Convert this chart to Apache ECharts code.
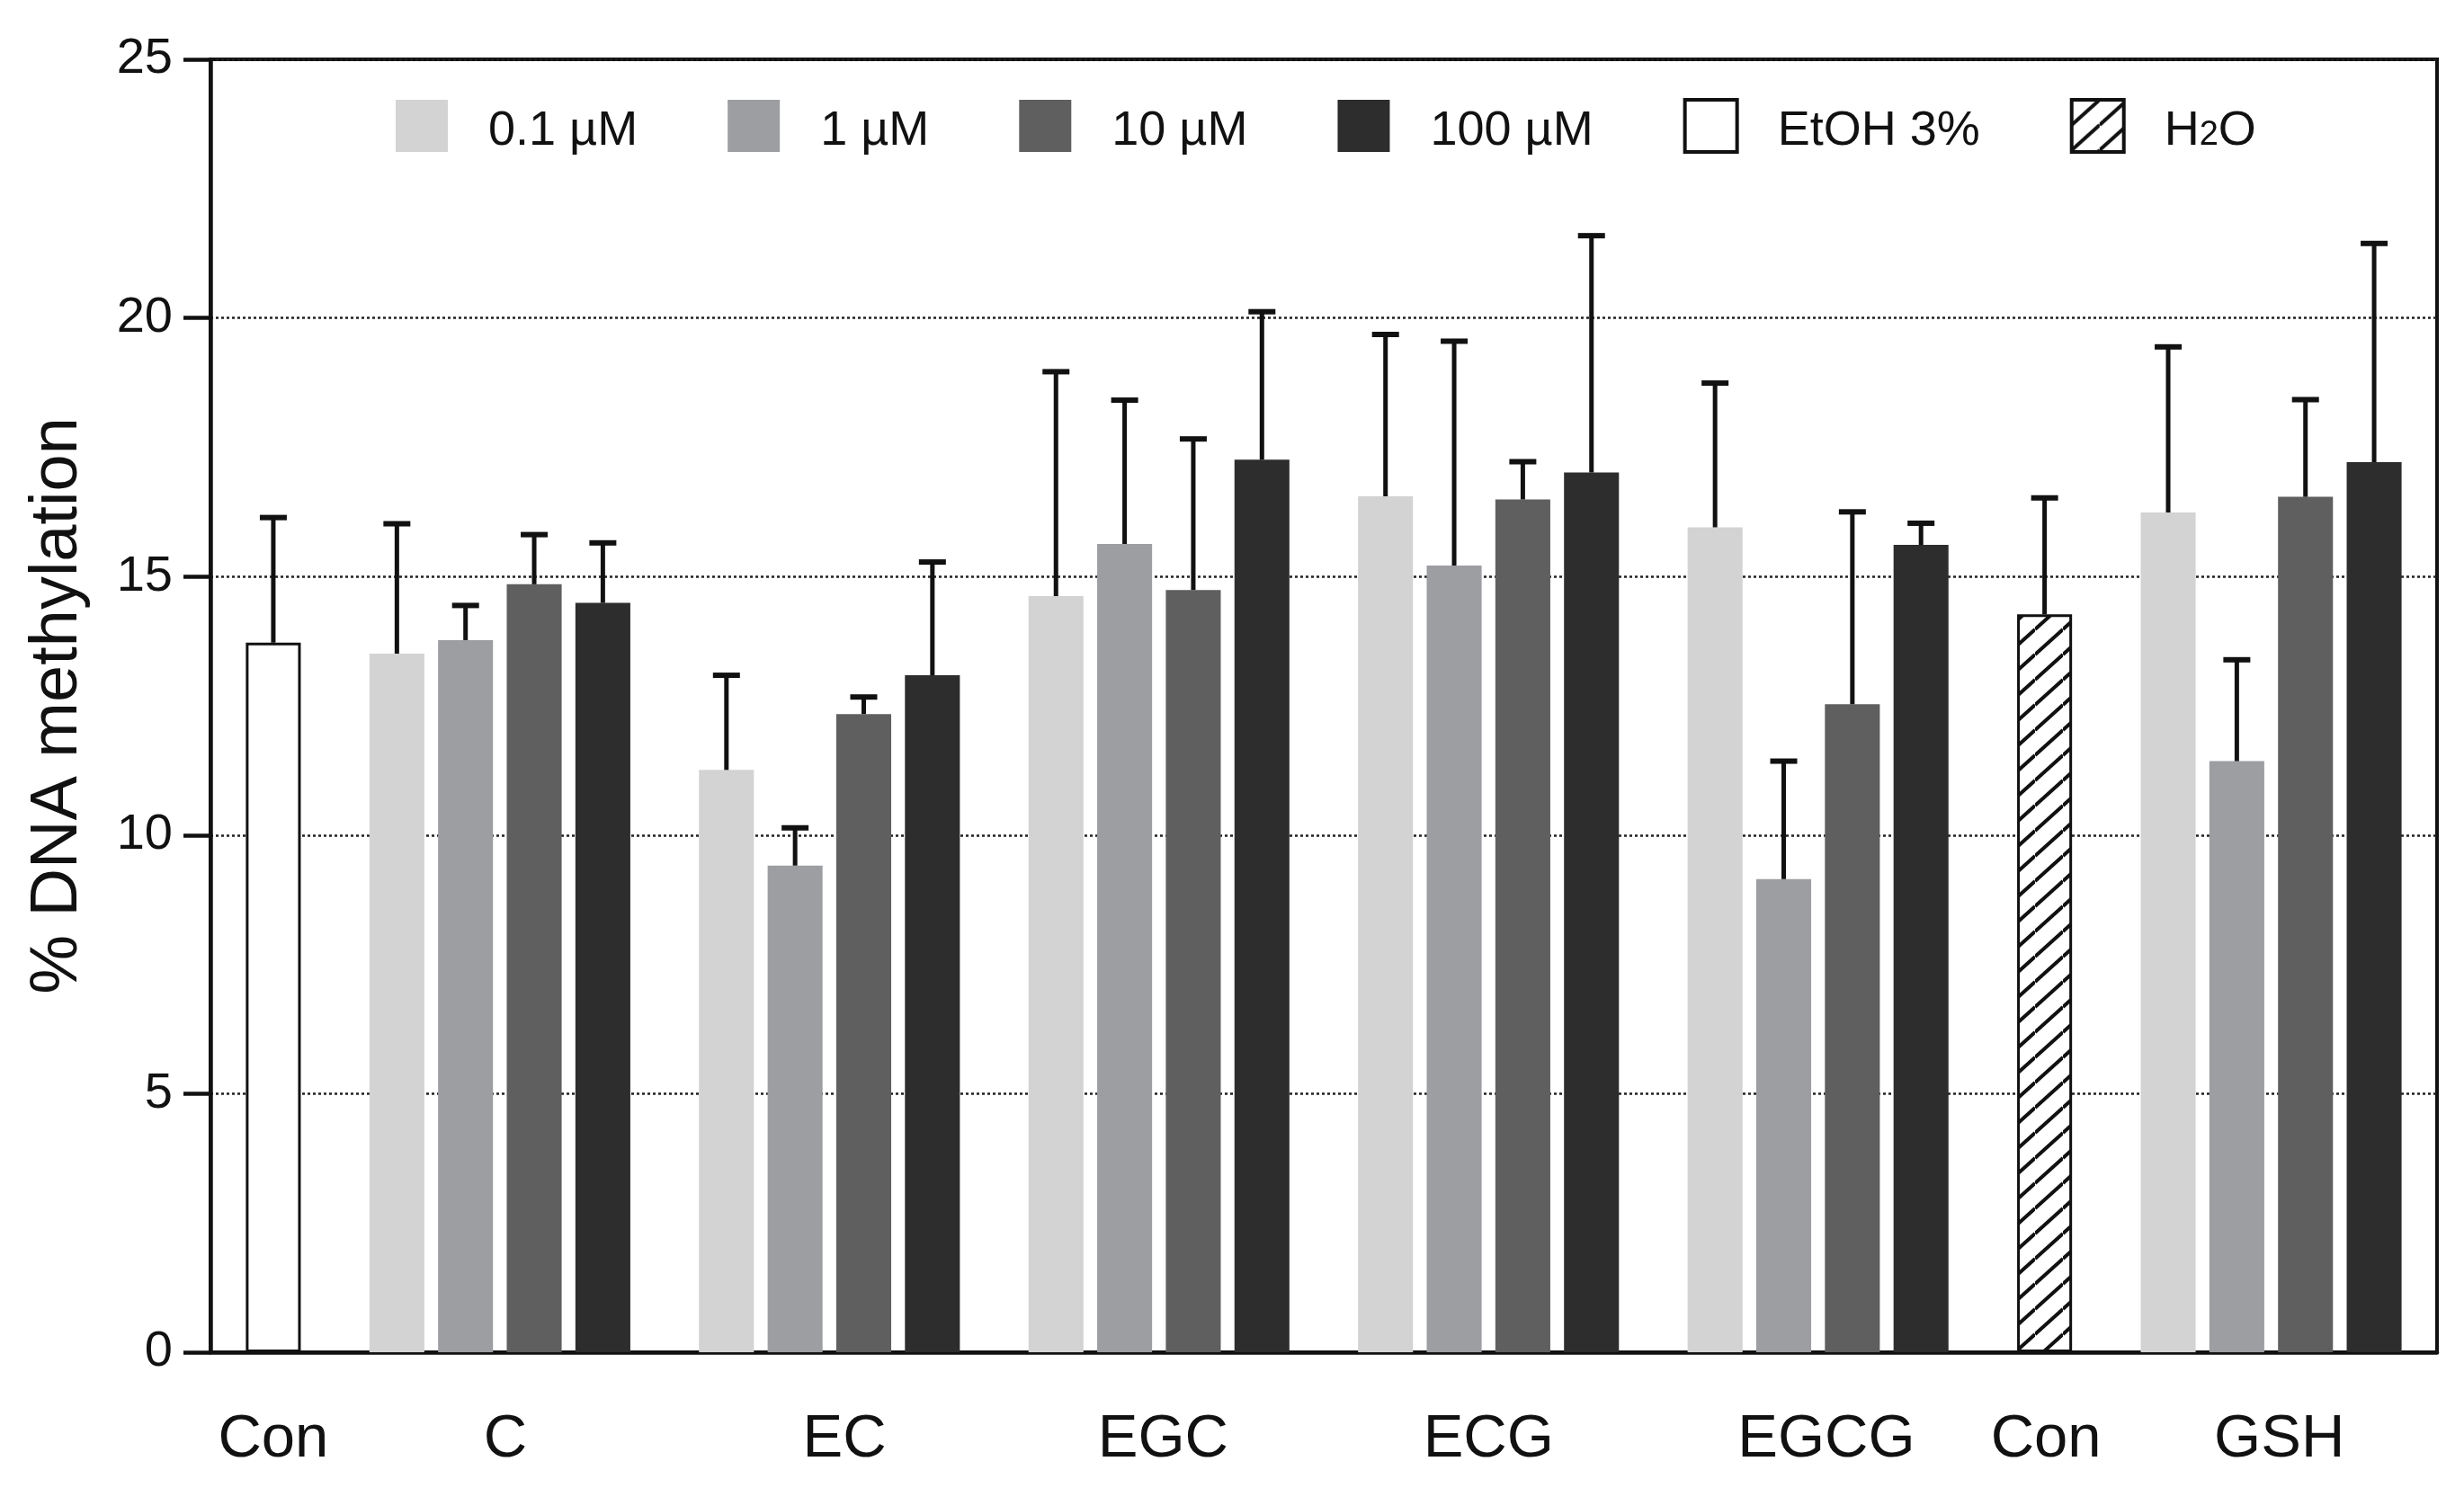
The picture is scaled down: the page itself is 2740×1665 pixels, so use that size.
<!DOCTYPE html>
<html>
<head>
<meta charset="utf-8">
<script src="https://cdn.jsdelivr.net/npm/echarts@6/dist/echarts.min.js"></script>
<style>
  html, body { margin: 0; padding: 0; background: #ffffff; }
  #chart { width: 2740px; height: 1665px; }
</style>
</head>
<body>
<div id="chart"></div>
<script>
// ---------------- DATA ----------------
const categories = ['Con', 'C', 'EC', 'EGC', 'ECG', 'EGCG', 'Con', 'GSH'];
const seriesNames = ['0.1 µM', '1 µM', '10 µM', '100 µM', 'EtOH 3%', 'H2O'];

// mean values per category (null = no bar)
const conc01  = [null, 13.51, 11.26, 14.62, 16.55, 15.95, null, 16.24];
const conc1   = [null, 13.77,  9.41, 15.63, 15.21,  9.15, null, 11.43];
const conc10  = [null, 14.85, 12.34, 14.74, 16.49, 12.53, null, 16.54];
const conc100 = [null, 14.49, 13.09, 17.26, 17.01, 15.61, null, 17.21];
const etoh    = [13.72, null, null, null, null, null, null, null];
const h2o     = [null, null, null, null, null, null, 14.27, null];

// standard deviations (upper error bar length)
const conc01Sd  = [null, 2.51, 1.83, 4.34, 3.13, 2.79, null, 3.20];
const conc1Sd   = [null, 0.67, 0.73, 2.78, 4.34, 2.28, null, 1.96];
const conc10Sd  = [null, 0.96, 0.33, 2.92, 0.73, 3.72, null, 1.88];
const conc100Sd = [null, 1.16, 2.19, 2.86, 4.58, 0.42, null, 4.23];
const etohSd    = [2.42, null, null, null, null, null, null, null];
const h2oSd     = [null, null, null, null, null, null, 2.25, null];

const yTicks = [0, 5, 10, 15, 20, 25];

// ---------------- LAYOUT (not data) ----------------
const means = [conc01, conc1, conc10, conc100, etoh, h2o];
const sds = [conc01Sd, conc1Sd, conc10Sd, conc100Sd, etohSd, h2oSd];
const BAR = 4;        // bar width in slot units
const GAP_IN = 1;     // gap between bars inside a group
const GAP_OUT = 5;    // gap between groups
const EDGE = 4.58;    // space between plot edge and outer bar centres
const LABEL_NUDGE = [0, 0.4, 1.1, 0.3, 0, 0.6, 0.1, 0.6];

const GRID = { left: 234, right: 30, top: 66, bottom: 161 };
const W = 2740, H = 1665;

// compute bar centres in slot units
const barPos = means.map(() => categories.map(() => null));
const groupCentre = [];
let cursor = 0, first = true;
categories.forEach((c, g) => {
  const members = [];
  means.forEach((arr, s) => { if (arr[g] != null) members.push(s); });
  const xs = [];
  members.forEach((s, j) => {
    if (first) { first = false; }
    else if (j === 0) { cursor += BAR + GAP_OUT; }
    else { cursor += BAR + GAP_IN; }
    barPos[s][g] = cursor;
    xs.push(cursor);
  });
  groupCentre.push((xs[0] + xs[xs.length - 1]) / 2);
});
const xMin = -EDGE;
const xMax = cursor + EDGE;
const slotPx = (W - GRID.left - GRID.right) / (xMax - xMin);
const barWidthPx = BAR * slotPx;

const labelValues = groupCentre.map((c, i) => c + LABEL_NUDGE[i]);
function labelFor(v) {
  let best = 0, bd = Infinity;
  labelValues.forEach((lv, i) => { const d = Math.abs(lv - v); if (d < bd) { bd = d; best = i; } });
  return categories[best];
}

// hatch pattern for H2O
function makeHatch() {
  const c = document.createElement('canvas');
  const tw = 31, th = 28;
  c.width = tw; c.height = th;
  const g = c.getContext('2d');
  g.fillStyle = '#ffffff';
  g.fillRect(0, 0, tw, th);
  g.strokeStyle = '#111111';
  g.lineWidth = 4;
  for (let k = 0; k <= 2; k++) {
    g.beginPath();
    g.moveTo(0, th * k);
    g.lineTo(tw, th * k - th);
    g.stroke();
  }
  return c;
}
const hatch = { image: makeHatch(), repeat: 'repeat' };

const styles = [
  { color: '#d3d3d3' },
  { color: '#9d9ea2' },
  { color: '#5f5f5f' },
  { color: '#2d2d2d' },
  { color: '#ffffff', borderColor: '#111111', borderWidth: 3 },
  { color: hatch, borderColor: '#111111', borderWidth: 3 }
];

const FONT = 'Liberation Sans, Arial, sans-serif';

const barSeries = seriesNames.map((name, s) => ({
  name: name,
  type: 'bar',
  barWidth: barWidthPx,
  barGap: '-100%',
  itemStyle: styles[s],
  z: 2,
  data: categories.map((c, g) => means[s][g] == null ? null : [barPos[s][g], means[s][g]]).filter(d => d)
}));

const errData = [];
means.forEach((arr, s) => arr.forEach((v, g) => {
  if (v != null) errData.push([barPos[s][g], v, v + sds[s][g]]);
}));

const errSeries = {
  type: 'custom',
  name: 'err',
  z: 5,
  encode: { x: 0, y: [1, 2] },
  renderItem: function (params, api) {
    const x = api.value(0), m = api.value(1), u = api.value(2);
    const p0 = api.coord([x, m]);
    const p1 = api.coord([x, u]);
    const half = 15;
    return {
      type: 'group',
      children: [
        { type: 'line', shape: { x1: p0[0], y1: p0[1], x2: p1[0], y2: p1[1] - 2 },
          style: { stroke: '#111111', lineWidth: 5 } },
        { type: 'line', shape: { x1: p1[0] - half, y1: p1[1], x2: p1[0] + half, y2: p1[1] },
          style: { stroke: '#111111', lineWidth: 6 } }
      ]
    };
  },
  data: errData
};

const legendItemStyles = [
  {}, {}, {}, {},
  { borderColor: '#111111', borderWidth: 4 },
  { borderColor: '#111111', borderWidth: 4 }
];

const chart = echarts.init(document.getElementById('chart'), null, { width: W, height: H });
chart.setOption({
  backgroundColor: '#ffffff',
  animation: false,
  textStyle: { fontFamily: FONT },
  grid: {
    left: GRID.left, right: GRID.right, top: GRID.top, bottom: GRID.bottom,
    show: true, borderColor: '#111111', borderWidth: 4, backgroundColor: 'transparent'
  },
  legend: {
    left: 440, top: 107, padding: 0,
    icon: 'rect', itemWidth: 58, itemHeight: 58, itemGap: 100,
    selectedMode: false,
    data: seriesNames.map((n, i) => ({ name: n, itemStyle: legendItemStyles[i] })),
    formatter: function (name) {
      if (name === 'H2O') return '{t|H}{s|2}{a|O}';
      return '{t|' + name + '}';
    },
    textStyle: {
      fontFamily: FONT, fontSize: 54, color: '#111111',
      rich: {
        t: { fontFamily: FONT, fontSize: 54, color: '#111111', lineHeight: 60, padding: [12, 0, 0, 40] },
        a: { fontFamily: FONT, fontSize: 54, color: '#111111', lineHeight: 60, padding: [12, 0, 0, 0] },
        s: { fontFamily: FONT, fontSize: 38, color: '#111111', lineHeight: 22, verticalAlign: 'bottom' }
      }
    }
  },
  xAxis: {
    type: 'value',
    min: xMin, max: xMax,
    axisLine: { show: true, onZero: false, lineStyle: { color: '#111111', width: 4.5 } },
    axisTick: { show: false },
    splitLine: { show: false },
    axisLabel: {
      customValues: labelValues,
      formatter: function (v) { return labelFor(v); },
      fontFamily: FONT, fontSize: 67, color: '#111111', margin: 64
    }
  },
  yAxis: {
    type: 'value',
    min: yTicks[0], max: yTicks[yTicks.length - 1], interval: yTicks[1] - yTicks[0],
    name: '% DNA methylation',
    nameLocation: 'middle',
    nameGap: 132,
    nameTextStyle: { fontFamily: FONT, fontSize: 74, color: '#111111' },
    axisLine: { show: true, onZero: false, lineStyle: { color: '#111111', width: 4.5 } },
    axisTick: { show: true, length: 30, lineStyle: { color: '#111111', width: 4.5 } },
    axisLabel: { fontFamily: FONT, fontSize: 56, color: '#111111', margin: 42 },
    splitLine: { show: true, lineStyle: { color: '#222222', width: 2.5, type: [3, 3] } }
  },
  series: barSeries.concat([errSeries])
});
</script>
</body>
</html>
